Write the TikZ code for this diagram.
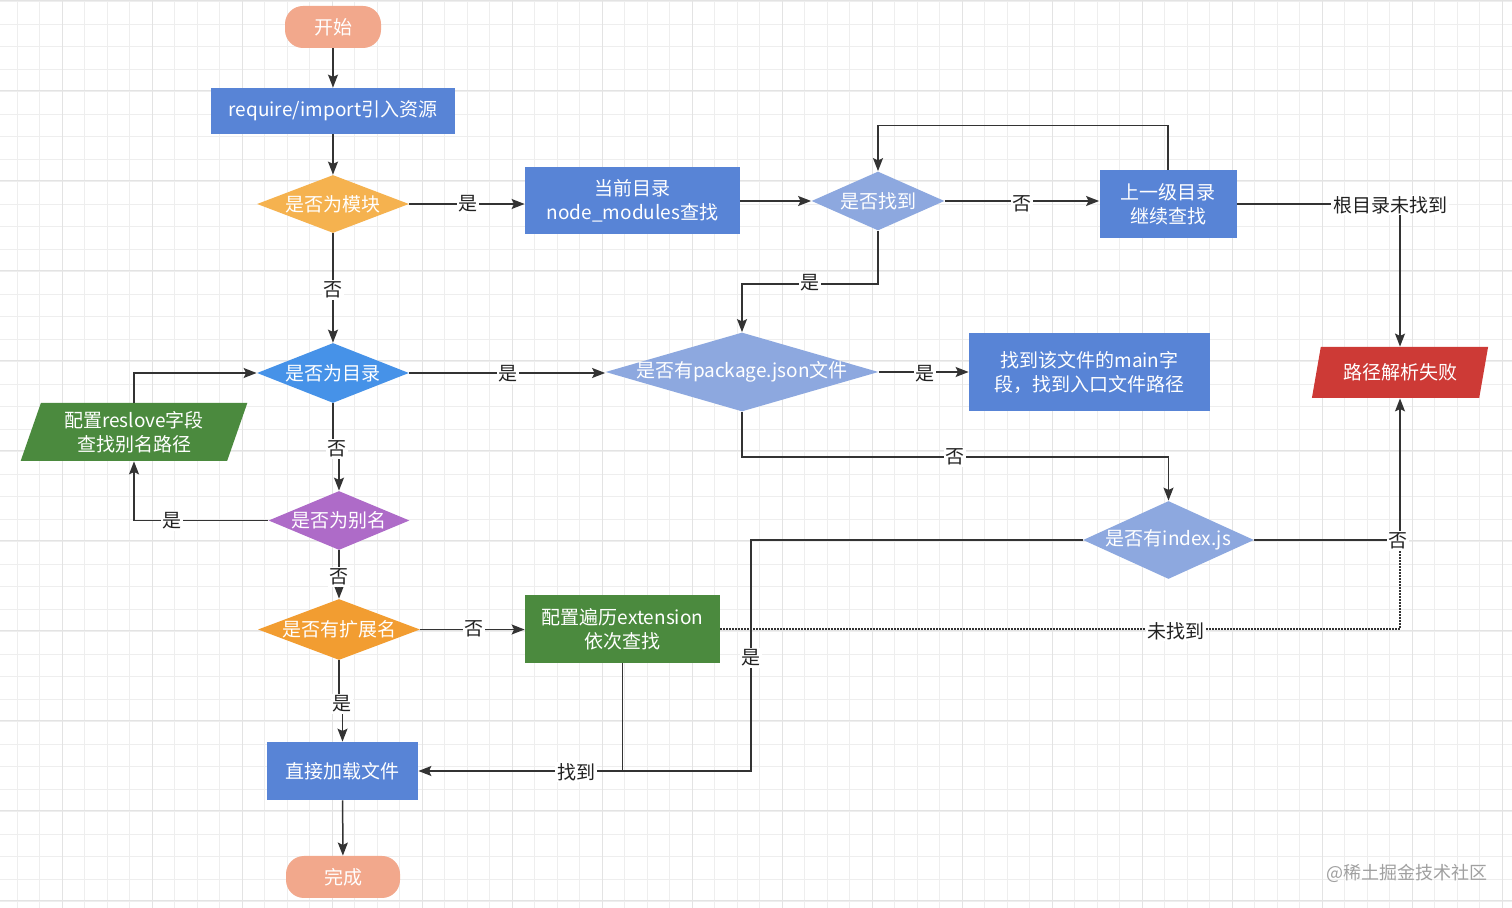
\documentclass[tikz,border=0pt]{standalone}
\usepackage{fontspec}
\setmainfont{Noto Sans CJK SC}
\usetikzlibrary{shapes.geometric,arrows.meta,calc}
\definecolor{cSalmon}{HTML}{F2A88C}
\definecolor{cBlue}{HTML}{5884D6}
\definecolor{cOrangeA}{HTML}{F5B24F}
\definecolor{cLight}{HTML}{8DA8DF}
\definecolor{cDir}{HTML}{4692E8}
\definecolor{cRed}{HTML}{CD3A36}
\definecolor{cGreen}{HTML}{4B8A3E}
\definecolor{cPurple}{HTML}{AE6BC8}
\definecolor{cOrangeB}{HTML}{F29D31}
\definecolor{gridMinor}{HTML}{EEEEEE}
\definecolor{gridMajor}{HTML}{E3E3E3}
\definecolor{lineC}{HTML}{333333}
\definecolor{wmC}{HTML}{A0A0A0}
\begin{document}
\begin{tikzpicture}[x=0.5pt,y=-0.5pt,
  font=\fontsize{9.5pt}{12pt}\selectfont,
  base/.style={text=white, inner sep=0pt},
  term/.style={base, rectangle, rounded corners=9pt, fill=cSalmon},
  procbox/.style={base, rectangle, align=center, fill=cBlue},
  decide/.style={base, diamond},
  para/.style={base, trapezium, trapezium left angle=70, trapezium right angle=110, trapezium stretches=true, align=center},
  conn/.style={draw=lineC, line width=0.75pt},
  arr/.style={conn, -{Stealth[length=6.5pt,width=5pt,inset=1.2pt]}},
  dotline/.style={draw=lineC, line width=0.75pt, dash pattern=on 0.6pt off 0.9pt},
  lbl/.style={fill=white, text=black!87, inner sep=0.8pt}
]
\fill[white] (0,0) rectangle (1512,908);
\useasboundingbox (0,0) rectangle (1512,908);
% grid
\foreach \k in {0,...,67} {
  \draw[gridMinor, line width=0.5pt] ({17.3+22.5*\k},0) -- ({17.3+22.5*\k},908);
}
\foreach \k in {0,...,40} {
  \draw[gridMinor, line width=0.5pt] (0,{1.7+22.5*\k}) -- (1512,{1.7+22.5*\k});
}
\foreach \k in {0,...,16} {
  \draw[gridMajor, line width=0.5pt] ({62.7+90*\k},0) -- ({62.7+90*\k},908);
}
\foreach \k in {0,...,10} {
  \draw[gridMajor, line width=0.5pt] (0,{0.7+90*\k}) -- (1512,{0.7+90*\k});
}

% nodes
\node[term, minimum width=48pt, minimum height=21pt] (start) at (333,27) {开始};
\node[procbox, minimum width=122pt, minimum height=23pt] (req) at (333,111) {require/import引入资源};
\node[decide, fill=cOrangeA, minimum width=76pt, minimum height=29pt] (mod) at (333,204) {\makebox[0pt]{是否为模块}};
\node[procbox, minimum width=107.5pt, minimum height=33.5pt] (cur) at (632.5,201) {当前目录\\node\_modules查找};
\node[decide, fill=cLight, minimum width=66.5pt, minimum height=29.5pt] (found) at (878,201) {\makebox[0pt]{是否找到}};
\node[procbox, minimum width=68.5pt, minimum height=34pt] (up) at (1168,204) {上一级目录\\继续查找};
\node[para, fill=cRed, minimum width=88.5pt, minimum height=25.5pt] (fail) at (1400,372.5) {路径解析失败};
\node[decide, fill=cDir, minimum width=76pt, minimum height=30pt] (dir) at (333,373) {\makebox[0pt]{是否为目录}};
\node[decide, fill=cLight, minimum width=136.5pt, minimum height=39.5pt] (pkg) at (742,372) {\makebox[0pt]{是否有package.json文件}};
\node[procbox, minimum width=120.5pt, minimum height=39pt] (mainb) at (1089.5,372) {找到该文件的main字\\段，找到入口文件路径};
\node[para, fill=cGreen, minimum width=114pt, minimum height=29pt] (res) at (134,432) {配置reslove字段\\查找别名路径};
\node[decide, fill=cPurple, minimum width=70.5pt, minimum height=29.5pt] (alias) at (339,520.5) {\makebox[0pt]{是否为别名}};
\node[decide, fill=cOrangeB, minimum width=81pt, minimum height=30.5pt] (ext) at (339,629.5) {\makebox[0pt]{是否有扩展名}};
\node[procbox, fill=cGreen, minimum width=97.5pt, minimum height=34pt] (extb) at (622.5,629) {配置遍历extension\\依次查找};
\node[decide, fill=cLight, minimum width=85.5pt, minimum height=39pt] (idx) at (1168.5,540) {\makebox[0pt]{是否有index.js}};
\node[procbox, minimum width=75.5pt, minimum height=29pt] (load) at (342.5,771) {直接加载文件};
\node[term, minimum width=57pt, minimum height=21pt] (done) at (343,877) {完成};

\node[text=wmC, font=\fontsize{9pt}{11pt}\selectfont] (wm) at (1407,873) {@稀土掘金技术社区};

% connectors
\draw[arr] (start) -- (req);
\draw[arr] (req) -- (mod);
\draw[arr] (mod.east) -- (mod.east -| cur.west);
\draw[arr] (cur.east) -- (cur.east -| found.west);
\draw[arr] (found.east) -- (found.east -| up.west);
\draw[arr] (up.north) -- ++(0,-44) -| (found.north);
\draw[arr] (up.east) -| (fail.north);
\draw[arr] (found.south) -- ++(0,53) -| (pkg.north);
\draw[arr] (mod.south) -- (dir.north);
\draw[arr] (dir.east) -- (dir.east -| pkg.west);
\draw[arr] (pkg.east) -- (pkg.east -| mainb.west);
\draw[arr] (pkg.south) -- ++(0,45) -| (idx.north);
\draw[arr] (dir.south) -- ++(0,46) -| (alias.north);
\draw[arr] (alias.west) -| (res.south);
\draw[arr] (res.north) |- (dir.west);
\draw[arr] (alias.south) -- (ext.north);
\draw[arr] (ext.east) -- (ext.east -| extb.west);
\draw[arr] (ext.south) -- ++(0,44) -| (load.north);
\draw[arr] (extb.south) |- (load.east);
\coordinate (jy) at (751,771);
\draw[conn] (idx.west) -| (jy) -- (extb.south |- load.east);
\draw[arr] (idx.east) -| (fail.south);
\draw[dotline] (extb.east) -- (fail.south |- extb.east) -- (fail.south |- idx.east);
\draw[arr] (load) -- (done);

% labels
\node[lbl] (l1) at (468,204) {是};
\node[lbl] (l2) at (1022,204) {否};
\node[lbl] (l3) at (1390,205) {根目录未找到};
\node[lbl] (l4) at (810,283) {是};
\node[lbl] (l5) at (333,290) {否};
\node[lbl] (l6) at (508,374) {是};
\node[lbl] (l7) at (925,374) {是};
\node[lbl] (l8) at (955,457) {否};
\node[lbl] (l9) at (337,449) {否};
\node[lbl] (l10) at (172,521) {是};
\node[lbl] (l11) at (339,577) {否};
\node[lbl] (l12) at (474,629) {否};
\node[lbl] (l13) at (342,704) {是};
\node[lbl] (l14) at (576,772) {找到};
\node[lbl] (l15) at (751,658) {是};
\node[lbl] (l16) at (1398,541) {否};
\node[lbl] (l17) at (1176,631) {未找到};
\end{tikzpicture}
\end{document}
